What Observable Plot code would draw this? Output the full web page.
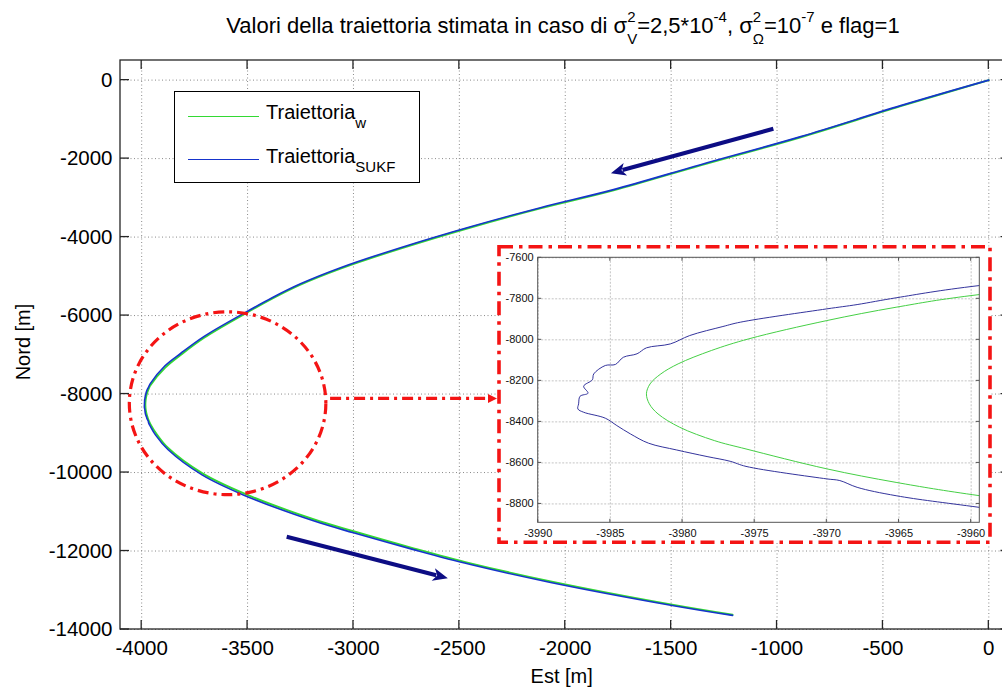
<!DOCTYPE html>
<html>
<head>
<meta charset="utf-8">
<script src="https://cdn.jsdelivr.net/npm/d3@7"></script>
<script src="https://cdn.jsdelivr.net/npm/@observablehq/plot@0.6"></script>
<style>
  body { margin: 0; background: #fff; font-family: "Liberation Sans", Arial, sans-serif; }
  #wrap { position: relative; width: 1002px; height: 688px; overflow: hidden; background: #fff; }
  #wrap > svg { position: absolute; left: 0; top: 0; }
  #title { position: absolute; left: 63px; width: 1000px; top: 14.7px; font-size: 22px; line-height: 22px;
           white-space: nowrap; color: #000; text-align: center; }
  .sup { position: relative; top: -10.6px; font-size: 15px; }
  .sub { position: relative; top: 11.7px; font-size: 15px; }
  .lab { position: absolute; font-size: 20px; line-height: 20px; color: #000; text-align: center; white-space: nowrap; }
  #legend { position: absolute; left: 174px; top: 91px; width: 244px; height: 90px; border: 1px solid #000; background: #fff; }
  #legend .ll { position: absolute; left: 13px; width: 71px; height: 1.3px; }
  #legend .lt { position: absolute; left: 91px; font-size: 20px; line-height: 20px; white-space: nowrap; color: #000; }
  #legend .ls { position: relative; top: 9px; font-size: 15px; }
</style>
</head>
<body>
<div id="wrap">
  <div id="title">Valori della traiettoria stimata in caso di σ<span class="sup">2</span><span class="sub" style="margin-left:-8.35px">V</span>=2,5*10<span class="sup">-4</span>, σ<span class="sup">2</span><span class="sub" style="margin-left:-8.35px">Ω</span>=10<span class="sup">-7</span> e flag=1</div>
  <div class="lab" style="left:461.7px; top:666px; width:200px;">Est [m]</div>
  <div class="lab" style="left:-77px; top:331.5px; width:200px; transform:rotate(-90deg);">Nord [m]</div>
</div>
<script>
// Axis limits and tick values of the overview
const estDomain = [-4100, 100];
const nordDomain = [-14000, 500];
const estTicks = [-4000, -3500, -3000, -2500, -2000, -1500, -1000, -500, 0];
const nordTicks = [0, -2000, -4000, -6000, -8000, -10000, -12000, -14000];

// Zoomed view around the turning point
const zoomEstDomain = [-3990, -3959.4];
const zoomNordDomain = [-8892, -7600];
const zoomEstTicks = [-3990, -3985, -3980, -3975, -3970, -3965, -3960];
const zoomNordTicks = [-7600, -7800, -8000, -8200, -8400, -8600, -8800];

// Trajectory w (reference), East / North in metres
const estW = [0, -416, -888, -1361, -1772, -2117, -2447, -2778, -3061, -3250, -3384, -3520, -3705, -3815, -3890,
  -3959.4, -3965.2, -3970, -3975.4, -3978.0, -3980.3, -3981.5, -3982.25, -3982.5, -3982.3, -3981.7, -3980.2,
  -3977.8, -3975.6, -3970, -3965.2, -3959.4,
  -3932, -3875, -3715, -3520, -3189, -3000, -2716, -2447, -2069, -1502, -1210];
const nordW = [0, -664, -1456, -2172, -2810, -3270, -3755, -4292, -4803, -5212, -5569, -5978, -6566, -7000, -7332,
  -7779, -7841, -7906, -7995, -8052, -8117, -8166, -8215, -8263, -8312, -8361, -8426,
  -8491, -8532, -8629, -8695, -8760,
  -9000, -9376, -10015, -10526, -11190, -11496, -11931, -12314, -12774, -13361, -13624];

// Trajectory estimated by the SUKF
const estSUKF = [0, -416, -888, -1361, -1772, -2117, -2447, -2778, -3061, -3250, -3384, -3520, -3705, -3815, -3890,
  -3959.4, -3965.2, -3967.9, -3970, -3976, -3977.2, -3979.5, -3980.85, -3982.5, -3983.15, -3984.1, -3984.65,
  -3985.35, -3986.15, -3986.25, -3986.85, -3986.55, -3987.1, -3987.2, -3987.25, -3986.85, -3985.35, -3984.55,
  -3983.6, -3982.35, -3980.4, -3978.3, -3976.7, -3975.6, -3970, -3969.1, -3967.9, -3965.2, -3959.4,
  -3935, -3875, -3715, -3520, -3189, -3000, -2716, -2447, -2069, -1502, -1210];
const nordSUKF = [0, -650, -1440, -2155, -2790, -3250, -3735, -4270, -4780, -5190, -5545, -5950, -6530, -6960, -7280,
  -7735, -7795, -7828, -7849, -7914, -7935, -7979, -8020, -8039, -8068, -8085, -8120,
  -8125, -8166, -8195, -8226, -8260, -8275, -8312, -8337, -8353, -8382, -8418,
  -8459, -8504, -8537, -8569, -8592, -8617, -8678, -8686, -8719, -8760, -8817,
  -9040, -9420, -10060, -10570, -11230, -11535, -11965, -12345, -12800, -13380, -13640];

// Direction-of-travel arrows
const arrowFromEst = [-1015, -3313];
const arrowFromNord = [-1252, -11650];
const arrowToEst = [-1782, -2552];
const arrowToNord = [-2384, -12705];

// Highlight around the turning point and link towards the zoomed view
const ellipseEst = -3592, ellipseNord = -8247;
const ellipseRadEst = 464, ellipseRadNord = 2330;
const linkEst = [-3108, -2320], linkNord = -8124;

const colW = "#33d933", colS = "#1634cc";
const colWZoom = "#45cf45", colSZoom = "#34349c";
const navy = "#0d0d84", red = "#f41414";
const dashDot = "11,5,3,5";

const trajW = estW.map((e, i) => ({est: e, nord: nordW[i]}));
const trajS = estSUKF.map((e, i) => ({est: e, nord: nordSUKF[i]}));

// Axes box with inward ticks on all four sides
function boxTicks(xd, yd, xt, yt, len, color, width) {
  return (index, {x, y}) => {
    const g = d3.create("svg:g").attr("stroke", color).attr("stroke-width", width).attr("fill", "none");
    const x0 = x(xd[0]), x1 = x(xd[1]), y0 = y(yd[0]), y1 = y(yd[1]);
    g.append("rect").attr("x", x0).attr("y", y1).attr("width", x1 - x0).attr("height", y0 - y1);
    for (const t of xt) {
      const px = x(t);
      g.append("line").attr("x1", px).attr("x2", px).attr("y1", y0).attr("y2", y0 - len);
      g.append("line").attr("x1", px).attr("x2", px).attr("y1", y1).attr("y2", y1 + len);
    }
    for (const t of yt) {
      const py = y(t);
      g.append("line").attr("y1", py).attr("y2", py).attr("x1", x0).attr("x2", x0 + len);
      g.append("line").attr("y1", py).attr("y2", py).attr("x1", x1).attr("x2", x1 - len);
    }
    return g.node();
  };
}

// Thick arrows with filled heads
function directionArrows(index, {x, y}) {
  const g = d3.create("svg:g");
  for (let i = 0; i < arrowFromEst.length; i++) {
    const x1 = x(arrowFromEst[i]), y1 = y(arrowFromNord[i]);
    const x2 = x(arrowToEst[i]), y2 = y(arrowToNord[i]);
    const a = Math.atan2(y2 - y1, x2 - x1), hl = 15, hw = 6.5;
    const bx = x2 - hl * Math.cos(a), by = y2 - hl * Math.sin(a);
    g.append("line").attr("x1", x1).attr("y1", y1).attr("x2", bx + 3 * Math.cos(a)).attr("y2", by + 3 * Math.sin(a))
      .attr("stroke", navy).attr("stroke-width", 4);
    g.append("path")
      .attr("d", `M${x2},${y2}L${bx - hw * Math.sin(a)},${by + hw * Math.cos(a)}L${bx + 4 * Math.cos(a)},${by + 4 * Math.sin(a)}L${bx + hw * Math.sin(a)},${by - hw * Math.cos(a)}Z`)
      .attr("fill", navy);
  }
  return g.node();
}

// Dash-dot ellipse around the turning point and the link with its arrowhead
function highlight(index, {x, y}) {
  const g = d3.create("svg:g");
  const cx = x(ellipseEst), cy = y(ellipseNord);
  g.append("ellipse").attr("cx", cx).attr("cy", cy)
    .attr("rx", x(ellipseEst + ellipseRadEst) - cx).attr("ry", y(ellipseNord - ellipseRadNord) - cy)
    .attr("fill", "none").attr("stroke", red).attr("stroke-width", 3.2).attr("stroke-dasharray", dashDot);
  const lx0 = x(linkEst[0]), lx1 = x(linkEst[1]), ly = y(linkNord);
  g.append("line").attr("x1", lx0).attr("x2", lx1 - 8).attr("y1", ly).attr("y2", ly)
    .attr("stroke", red).attr("stroke-width", 3.2).attr("stroke-dasharray", dashDot);
  g.append("path").attr("d", `M${lx1},${ly}L${lx1 - 9},${ly - 4.5}L${lx1 - 9},${ly + 4.5}Z`).attr("fill", red);
  return g.node();
}

const fmt = d => String(d);

const main = Plot.plot({
  width: 1002,
  height: 688,
  marginTop: 60,
  marginBottom: 59,
  marginLeft: 120,
  marginRight: 0,
  x: {domain: estDomain, range: [120, 1009.5], label: null},
  y: {domain: nordDomain, label: null},
  style: {fontFamily: "'Liberation Sans', Arial, sans-serif", background: "transparent", color: "#000"},
  marks: [
    Plot.gridX(estTicks, {stroke: "#8a8a8a", strokeOpacity: 1, strokeWidth: 1, strokeDasharray: "1,2.5"}),
    Plot.gridY(nordTicks, {stroke: "#8a8a8a", strokeOpacity: 1, strokeWidth: 1, strokeDasharray: "1,2.5"}),
    Plot.line(trajW, {x: "est", y: "nord", stroke: colW, strokeWidth: 1.9, curve: "catmull-rom"}),
    Plot.line(trajS, {x: "est", y: "nord", stroke: colS, strokeWidth: 1.6, curve: "catmull-rom"}),
    directionArrows,
    highlight,
    boxTicks(estDomain, nordDomain, estTicks, nordTicks, 9, "#262626", 1.3),
    Plot.axisX(estTicks, {anchor: "bottom", tickSize: 0, tickPadding: 11, tickFormat: fmt, fontSize: 20.5, fill: "#000", label: null}),
    Plot.axisY(nordTicks, {anchor: "left", tickSize: 0, tickPadding: 8, tickFormat: fmt, fontSize: 20.5, fill: "#000", label: null})
  ]
});

// Background and dash-dot border of the zoomed view
function zoomPanel(index, scales, values, {width, height}) {
  return d3.create("svg:rect").attr("x", 2).attr("y", 2.7).attr("width", width - 5).attr("height", height - 5.5)
    .attr("fill", "#fff").node();
}
function zoomBorder(index, scales, values, {width, height}) {
  return d3.create("svg:rect").attr("x", 2).attr("y", 2.7).attr("width", width - 5).attr("height", height - 5.5)
    .attr("fill", "none").attr("stroke", red).attr("stroke-width", 3.6).attr("stroke-dasharray", "14,6,3.5,6").node();
}

const zoom = Plot.plot({
  width: 496,
  height: 301,
  marginLeft: 40.7,
  marginTop: 13.3,
  marginRight: 13.7,
  marginBottom: 22.7,
  x: {domain: zoomEstDomain, label: null},
  y: {domain: zoomNordDomain, label: null},
  style: {fontFamily: "'Liberation Sans', Arial, sans-serif", background: "transparent", color: "#000"},
  marks: [
    zoomPanel,
    Plot.gridX(zoomEstTicks, {stroke: "#c4c4c4", strokeOpacity: 1, strokeDasharray: "2,1.5"}),
    Plot.gridY(zoomNordTicks, {stroke: "#c4c4c4", strokeOpacity: 1, strokeDasharray: "2,1.5"}),
    Plot.line(trajW, {x: "est", y: "nord", stroke: colWZoom, strokeWidth: 1, curve: "catmull-rom", clip: true}),
    Plot.line(trajS, {x: "est", y: "nord", stroke: colSZoom, strokeWidth: 1, curve: "catmull-rom", clip: true}),
    boxTicks(zoomEstDomain, zoomNordDomain, zoomEstTicks, zoomNordTicks, 3.5, "#555", 1),
    Plot.axisX(zoomEstTicks, {anchor: "bottom", tickSize: 0, tickPadding: 6, tickFormat: fmt, fontSize: 11, fill: "#111", label: null}),
    Plot.axisY(zoomNordTicks, {anchor: "left", tickSize: 0, tickPadding: 4.5, tickFormat: fmt, fontSize: 11, fill: "#111", label: null}),
    zoomBorder
  ]
});
zoom.style.left = "497px";
zoom.style.top = "244px";

const wrap = document.getElementById("wrap");
wrap.insertBefore(main, wrap.firstChild);
wrap.appendChild(zoom);

// Legend
const legend = document.createElement("div");
legend.id = "legend";
legend.innerHTML =
  `<div class="ll" style="top:23.5px;background:${colW}"></div>` +
  `<div class="lt" style="top:9.5px">Traiettoria<span class="ls">w</span></div>` +
  `<div class="ll" style="top:66.5px;background:${colS}"></div>` +
  `<div class="lt" style="top:53.5px">Traiettoria<span class="ls">SUKF</span></div>`;
wrap.appendChild(legend);
</script>
</body>
</html>
